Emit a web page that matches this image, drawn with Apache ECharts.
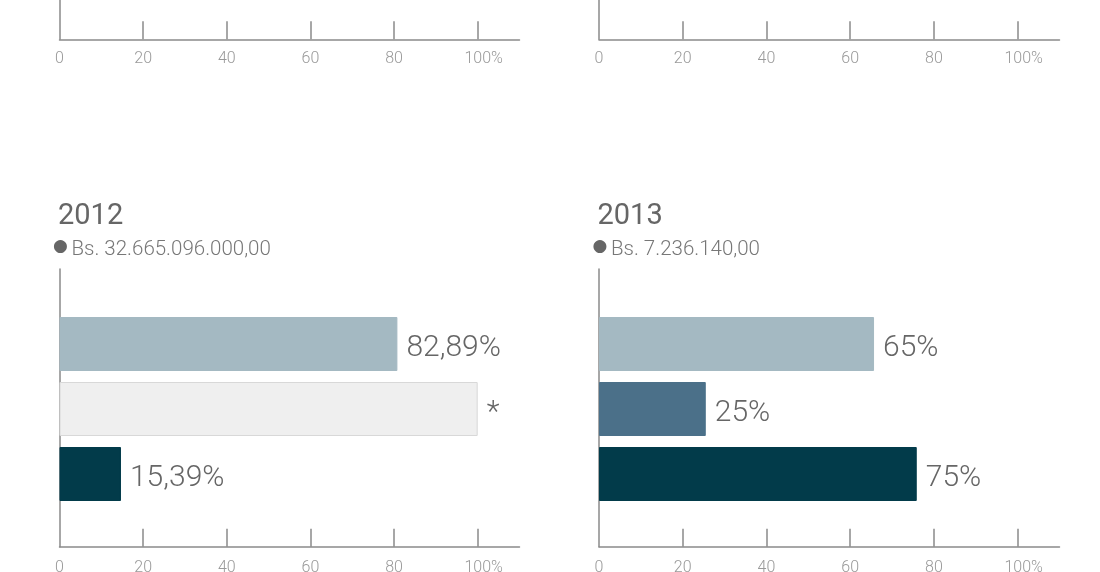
<!DOCTYPE html>
<html>
<head>
<meta charset="utf-8">
<script src="https://cdn.jsdelivr.net/npm/echarts@6/dist/echarts.min.js"></script>
<style>
html,body{margin:0;padding:0;background:#fff;}
#chart{width:1100px;height:572px;}
</style>
</head>
<body>
<div id="chart"></div>
<script>
// ---- data ----
const categories = ['1', '2', '3'];
const years = ['2012', '2013'];
const totals = ['Bs. 32.665.096.000,00', 'Bs. 7.236.140,00'];
const values2012 = [80.8, 100, 14.7];
const values2013 = [65.7, 25.5, 75.9];
const labels2012 = ['82,89%', '*', '15,39%'];
const labels2013 = ['65%', '25%', '75%'];
const tickValues = [20, 40, 60, 80, 100];
const tickLabels = [0, 20, 40, 60, 80, 100];

// ---- styles ----
const colors2012 = ['#a4b9c2', '#efefef', '#023b4a'];
const colors2013 = ['#a4b9c2', '#4b7089', '#023b4a'];
const borders2012 = ['#a4b9c2', '#d8d8d8', '#023b4a'];
const borders2013 = ['#a4b9c2', '#4b7089', '#023b4a'];
const axisColor = '#8a8a8a';
const FONT = 'Roboto';

const panelLeft = [59.5, 599];
const panelWidth = [460, 460.5];

const chart = echarts.init(document.getElementById('chart'), null, {renderer: 'canvas'});

const grids = [];
const xAxes = [];
const yAxes = [];
const G = {outerBoundsMode: 'none', containLabel: false};

// axis grids: 0 top-left, 1 top-right (only their lower edge is visible), 2 bottom-left, 3 bottom-right
grids.push(Object.assign({left: panelLeft[0], width: panelWidth[0], top: 0, height: 39.3}, G));
grids.push(Object.assign({left: panelLeft[1], width: panelWidth[1], top: 0, height: 39.3}, G));
grids.push(Object.assign({left: panelLeft[0], width: panelWidth[0], top: 269, height: 277.7}, G));
grids.push(Object.assign({left: panelLeft[1], width: panelWidth[1], top: 269, height: 277.7}, G));
// bar grids: 4 bottom-left, 5 bottom-right
[0, 1].forEach(p => {
  grids.push(Object.assign({left: panelLeft[p], width: panelWidth[p], top: 311.5, height: 195}, G));
});

for (let i = 0; i < 4; i++) {
  xAxes.push({
    type: 'value', gridIndex: i, min: 0, max: 110,
    axisLine: {show: true, lineStyle: {color: axisColor, width: 1.5}},
    axisTick: {show: true, inside: true, length: 18, customValues: tickValues,
      lineStyle: {color: axisColor, width: 1.5}},
    axisLabel: {show: true, customValues: tickLabels, margin: i < 2 ? 12 : 13,
      color: '#999', fontSize: 16, fontFamily: FONT, fontWeight: 300,
      formatter: v => v === 100 ? '{s|}' + v + '%' : String(v),
      rich: {s: {width: 12, fontSize: 16}}},
    splitLine: {show: false}
  });
  yAxes.push({
    type: 'value', gridIndex: i, min: 0, max: 1,
    axisLine: {show: true, lineStyle: {color: axisColor, width: 1.5}},
    axisTick: {show: false}, axisLabel: {show: false}, splitLine: {show: false}
  });
}
for (let i = 4; i < 6; i++) {
  xAxes.push({type: 'value', gridIndex: i, min: 0, max: 110, show: false});
  yAxes.push({type: 'category', gridIndex: i, data: categories, inverse: true, show: false});
}

function barSeries(idx, values, labels, colors, borders) {
  return {
    type: 'bar', xAxisIndex: idx, yAxisIndex: idx, barWidth: 54,
    data: values.map((v, i) => ({value: v, itemStyle: {color: colors[i], borderColor: borders[i], borderWidth: 1}})),
    label: {
      show: true, position: 'right', distance: 9, offset: [0, 4],
      formatter: p => labels[p.dataIndex],
      fontSize: 30, color: '#666', fontFamily: FONT, fontWeight: 300
    },
    silent: true, animation: false
  };
}

const titles = [];
years.forEach((y, p) => {
  titles.push({text: y, left: panelLeft[p] - 1.5, top: 202, padding: 0,
    textStyle: {fontSize: 29, fontWeight: 'normal', color: '#666', fontFamily: FONT}});
  titles.push({text: '\u25CF', left: panelLeft[p] - 6.5, top: 238, padding: 0,
    textStyle: {fontSize: 17, fontWeight: 'normal', color: '#666', fontFamily: 'DejaVu Sans'}});
  titles.push({text: totals[p], left: panelLeft[p] + 12, top: 239, padding: 0,
    textStyle: {fontSize: 20.5, fontWeight: 300, color: '#777', fontFamily: FONT}});
});

chart.setOption({
  animation: false,
  title: titles,
  grid: grids,
  xAxis: xAxes,
  yAxis: yAxes,
  series: [
    barSeries(4, values2012, labels2012, colors2012, borders2012),
    barSeries(5, values2013, labels2013, colors2013, borders2013)
  ]
});
</script>
</body>
</html>
